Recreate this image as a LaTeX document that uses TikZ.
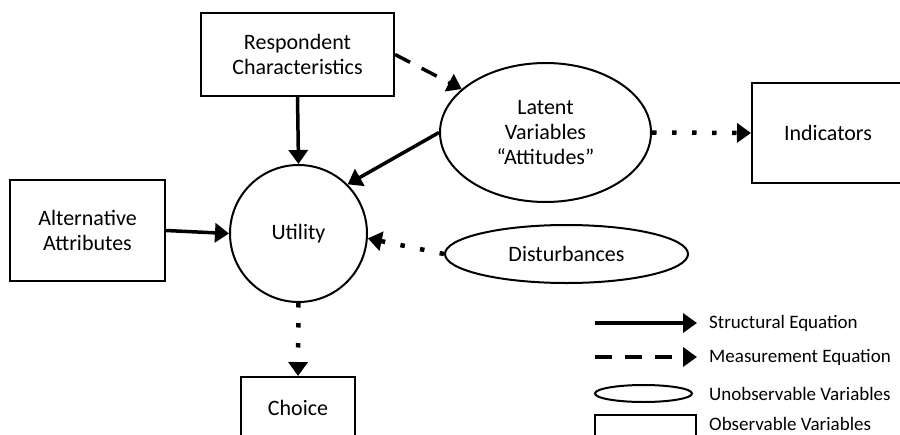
\documentclass[tikz,border=0pt]{standalone}
\usepackage{fontspec}
\setmainfont{Carlito}
\usetikzlibrary{arrows.meta,shapes.geometric}

\begin{document}
\begin{tikzpicture}[x=1pt,y=-1pt,
  lbl/.style={font=\fontsize{22}{25}\selectfont, align=center},
  obs/.style={lbl, draw, line width=2pt, rectangle, inner sep=0pt},
  unobs/.style={lbl, draw, line width=2pt, ellipse, inner sep=0pt},
  legtxt/.style={font=\fontsize{19}{22}\selectfont, anchor=west, inner sep=0pt},
  tip/.style={-{Triangle[length=14pt,width=19pt]}},
  structural/.style={tip, line width=3.5pt},
  measurement/.style={tip, line width=3.5pt, dash pattern=on 17pt off 13pt},
  errorlink/.style={tip, line width=4.5pt, dash pattern=on 4.5pt off 15.5pt},
]
\useasboundingbox (0,0) rectangle (900,434);
\clip (0,0) rectangle (900,434);

% variables of the model
\node[obs, minimum width=193pt, minimum height=83pt] (resp) at (297.5,54.5) {Respondent\\Characteristics};
\node[obs, minimum width=155pt, minimum height=101pt] (alt) at (87.5,230.5) {Alternative\\Attributes};
\node[obs, minimum width=114pt, minimum height=62pt] (choice) at (298,408) {Choice};
\node[obs, minimum width=152pt, minimum height=100pt] (ind) at (828,133) {Indicators};
\node[lbl, draw, line width=2pt, circle, inner sep=0pt, minimum size=137pt] (util) at (298.5,233.5) {Utility};
\node[unobs, minimum width=211pt, minimum height=139pt] (lat) at (545.5,132.5) {Latent\\Variables\\“Attitudes”};
\node[unobs, minimum width=243pt, minimum height=58pt] (dist) at (566.5,254) {Disturbances};

% relations
\draw[structural] (resp.south) -- (util.north);
\draw[measurement] (resp.east) -- (lat);
\draw[structural] (lat.west) -- (util.45);
\draw[structural] (alt.east) -- (util.west);
\draw[errorlink] (dist.west) -- (util.-4);
\draw[errorlink] (util.south) -- (choice.north);
\draw[errorlink] (lat.east) -- (ind.west);

% legend
\coordinate (s1) at (595,323);
\coordinate (s2) at (697,323);
\coordinate (m1) at (595,357);
\coordinate (m2) at (697,357);
\draw[structural] (s1) -- (s2);
\draw[measurement] (m1) -- (m2);
\node[draw, line width=2pt, ellipse, inner sep=0pt, minimum width=97pt, minimum height=17pt] (legell) at (643.5,393.5) {};
\node[draw, line width=2pt, rectangle, inner sep=0pt, minimum width=101pt, minimum height=36pt] (legbox) at (645.5,433) {};
\node[legtxt] (t1) at (709,323) {Structural Equation};
\node[legtxt] (t2) at (709,357) {Measurement Equation};
\node[legtxt] (t3) at (709,393.5) {Unobservable Variables};
\node[legtxt] (t4) at (709,423.5) {Observable Variables};
\end{tikzpicture}
\end{document}
